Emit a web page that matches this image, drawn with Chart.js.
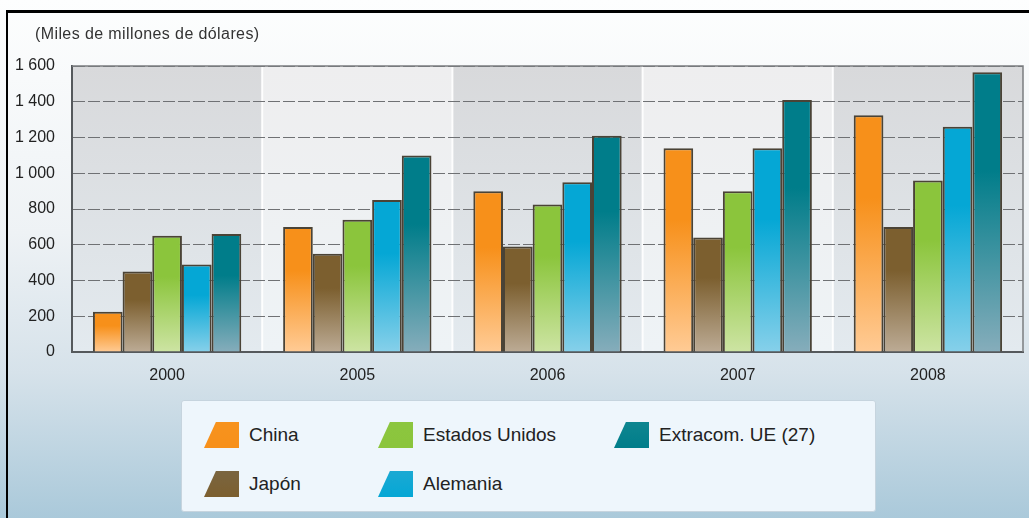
<!DOCTYPE html>
<html lang="es">
<head>
<meta charset="utf-8">
<script src="https://cdn.jsdelivr.net/npm/chart.js@4.4.1/dist/chart.umd.min.js"></script>
<style>
  body { margin: 0; overflow: hidden; background: #fff; font-family: "Liberation Sans", Arial, sans-serif; }
  #wrap { position: relative; width: 1029px; height: 518px; }
  #legend { position: absolute; left: 181px; top: 400px; width: 695px; height: 112px; background: #eef6fc; border: 1px solid #c6d4de; border-radius: 3px; box-sizing: border-box; }
  .item { position: absolute; height: 26px; display: flex; align-items: center; font-size: 19px; color: #222; white-space: nowrap; }
  .sw { width: 35px; height: 26px; clip-path: polygon(34% 0, 100% 0, 100% 100%, 0 100%); margin-right: 10px; flex: none; }
</style>
</head>
<body>
<div id="wrap">
  <canvas id="chart" width="1029" height="518"></canvas>
  <div id="legend"></div>
</div>
<script>
const years = ['2000', '2005', '2006', '2007', '2008'];
const seriesNames = ['China', 'Japón', 'Estados Unidos', 'Alemania', 'Extracom. UE (27)'];
const china = [225, 700, 900, 1140, 1325];
const japon = [450, 550, 590, 640, 700];
const eeuu = [650, 740, 825, 900, 960];
const alemania = [490, 850, 950, 1140, 1260];
const extracom = [660, 1100, 1210, 1410, 1565];
const yTicks = [0, 200, 400, 600, 800, 1000, 1200, 1400, 1600];
const unitLabel = '(Miles de millones de dólares)';

// top / bottom colour of each bar gradient
const colors = [
  ['#f7901a', '#ffcb95'],
  ['#7c5f2f', '#bcab95'],
  ['#8bc53c', '#cde4a3'],
  ['#05a7d5', '#86d0ea'],
  ['#007d8a', '#86adbb']
];
const swatch = ['#f7931e', '#7a6540', '#8cc63f', '#1ba9d3', '#0e8690'];

const fmt = v => String(v).replace(/\B(?=(\d{3})+$)/g, ' ');

function barFill(i) {
  return ctx => {
    const chart = ctx.chart;
    if (!chart.chartArea || ctx.type !== 'data') return colors[i][0];
    const y = chart.scales.y;
    const top = y.getPixelForValue(ctx.raw);
    const base = y.getPixelForValue(0);
    const g = chart.ctx.createLinearGradient(0, top, 0, base);
    g.addColorStop(0, colors[i][0]);
    g.addColorStop(0.35, colors[i][0]);
    g.addColorStop(1, colors[i][1]);
    return g;
  };
}

const backdrop = {
  id: 'backdrop',
  beforeDraw(chart) {
    const { ctx, chartArea: a, scales } = chart;
    ctx.save();
    const bg = ctx.createLinearGradient(0, 0, 0, chart.height);
    bg.addColorStop(0, '#fdfefe');
    bg.addColorStop(0.45, '#eef2f5');
    bg.addColorStop(0.72, '#d6e2ea');
    bg.addColorStop(1, '#aac9da');
    ctx.fillStyle = bg;
    ctx.fillRect(0, 0, chart.width, chart.height);

    const x = scales.x;
    const step = (a.right - a.left) / years.length;
    years.forEach((yr, i) => {
      const cx = x.getPixelForValue(i);
      const l = cx - step / 2;
      const g = ctx.createLinearGradient(0, a.top, 0, a.bottom);
      if (i % 2 === 0) {
        g.addColorStop(0, '#d8d9db');
        g.addColorStop(1, '#e3eaef');
      } else {
        g.addColorStop(0, '#eeeeef');
        g.addColorStop(1, '#eef3f6');
      }
      ctx.fillStyle = g;
      ctx.fillRect(l, a.top, step, a.bottom - a.top);
      if (i > 0) {
        ctx.fillStyle = 'rgba(255,255,255,0.9)';
        ctx.fillRect(l - 1, a.top, 2, a.bottom - a.top);
      }
    });

    ctx.fillStyle = '#333';
    ctx.font = '16px "Liberation Sans", Arial, sans-serif';
    ctx.letterSpacing = '0.4px';
    ctx.textBaseline = 'middle';
    ctx.fillText(unitLabel, 35, 35);
    ctx.restore();
  },
  beforeDatasetsDraw(chart) {
    const { ctx, chartArea: a } = chart;
    ctx.save();
    ctx.strokeStyle = '#7b7d80';
    ctx.lineWidth = 1.5;
    ctx.beginPath();
    ctx.moveTo(a.left, a.top);
    ctx.lineTo(a.right, a.top);
    ctx.lineTo(a.right, a.bottom);
    ctx.stroke();
    ctx.restore();
  },
  afterDraw(chart) {
    const ctx = chart.ctx;
    ctx.save();
    ctx.fillStyle = '#000';
    ctx.fillRect(6, 10, chart.width - 6, 3);
    ctx.fillRect(6, 10, 2, chart.height - 10);
    ctx.restore();
  }
};

const data = [china, japon, eeuu, alemania, extracom];

new Chart(document.getElementById('chart'), {
  type: 'bar',
  data: {
    labels: years,
    datasets: data.map((d, i) => ({
      label: seriesNames[i],
      data: d,
      backgroundColor: barFill(i),
      borderColor: '#4a4336',
      borderWidth: 2,
      borderSkipped: 'bottom',
      categoryPercentage: 0.78,
      barPercentage: 1
    }))
  },
  options: {
    responsive: false,
    animation: false,
    layout: { padding: { top: 66, right: 6, bottom: 0, left: 0 } },
    plugins: { legend: { display: false }, tooltip: { enabled: false }, title: { display: false } },
    scales: {
      x: {
        grid: { display: false, drawTicks: false },
        border: { display: true, color: '#55595c', width: 2 },
        ticks: { color: '#222', font: { size: 16, family: '"Liberation Sans", Arial, sans-serif' }, padding: 14 },
        afterFit: s => { s.height = 166; }
      },
      y: {
        min: 0, max: 1600,
        afterBuildTicks: s => { s.ticks = yTicks.map(v => ({ value: v })); },
        grid: { color: '#6f7174', drawTicks: false, lineWidth: 1 },
        border: { display: true, color: '#55595c', width: 2, dash: [12, 3] },
        ticks: { color: '#222', font: { size: 16, family: '"Liberation Sans", Arial, sans-serif' }, padding: 17, callback: v => fmt(v) },
        afterFit: s => { s.width = 72; }
      }
    }
  },
  plugins: [backdrop]
});

// HTML legend: two rows, filled column by column
const legend = document.getElementById('legend');
const colX = [22, 196, 432];
const rowY = [21, 70];
seriesNames.forEach((name, i) => {
  const el = document.createElement('div');
  el.className = 'item';
  el.style.left = colX[Math.floor(i / 2)] + 'px';
  el.style.top = rowY[i % 2] + 'px';
  el.innerHTML = `<span class="sw" style="background:linear-gradient(${swatch[i]}, ${colors[i][0]})"></span><span>${name}</span>`;
  legend.appendChild(el);
});
</script>
</body>
</html>
